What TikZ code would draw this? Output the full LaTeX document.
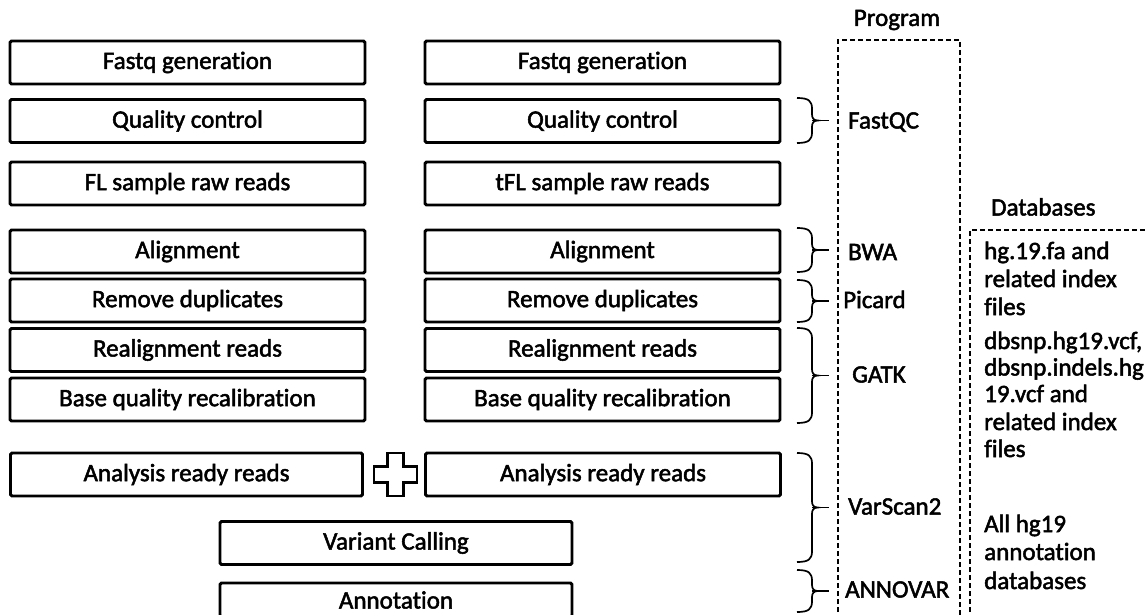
\documentclass[tikz,border=0pt]{standalone}
\usepackage{fontspec}
\setmainfont{Carlito}[Ligatures=NoCommon, FakeBold=2]
\usetikzlibrary{calc}

\tikzset{
  stepbox/.style={draw=black, line width=2.9pt, rounded corners=1.5pt, fill=white,
    minimum width=355pt, minimum height=43pt, inner sep=0pt,
    font=\fontsize{25}{28}\selectfont},
  widebox/.style={stepbox, minimum width=352pt},
  bracepen/.style={draw=black, line width=1.7pt},
  framepen/.style={draw=black, line width=1.9pt, dash pattern=on 5pt off 3pt},
  lbl/.style={inner sep=0pt, font=\fontsize{25}{28}\selectfont}
}

% right curly brace with a short stem at its middle
\newcommand\progbrace[2]{%
  \pgfmathsetmacro\bm{(#1+#2)/2}%
  \draw[bracepen] (797,#1) .. controls (809,#1) and (812,#1+3) .. (812,#1+11)
     -- (812,\bm-6) .. controls (812,\bm-2) and (814,\bm) .. (818,\bm)
     .. controls (814,\bm) and (812,\bm+2) .. (812,\bm+6)
     -- (812,#2-11) .. controls (812,#2-3) and (809,#2) .. (797,#2);
  \draw[bracepen] (812,\bm) -- (829,\bm);
}

\begin{document}
\begin{tikzpicture}[x=1pt, y=-1pt]
\useasboundingbox (0,0) rectangle (1148,615);
\clip (0,0) rectangle (1148,615);

% two sample columns
\node[stepbox] (L1) at (187.5,62.5)  {Fastq generation};
\node[stepbox] (L2) at (187.5,121)   {Quality control};
\node[stepbox] (L3) at (187.5,183.5) {FL sample raw reads};
\node[stepbox] (L4) at (187.5,251.5) {Alignment};
\node[stepbox] (L5) at (187.5,300.5) {Remove duplicates};
\node[stepbox] (L6) at (187.5,350)   {Realignment reads};
\node[stepbox] (L7) at (187.5,399.5) {Base quality recalibration};
\node[widebox] (L8) at (186.5,474.5) {Analysis ready reads};

\node[stepbox] (R1) at (602.5,62.5)  {Fastq generation};
\node[stepbox] (R2) at (602.5,121)   {Quality control};
\node[stepbox] (R3) at (602.5,183.5) {tFL sample raw reads};
\node[stepbox] (R4) at (602.5,251.5) {Alignment};
\node[stepbox] (R5) at (602.5,300.5) {Remove duplicates};
\node[stepbox] (R6) at (602.5,350)   {Realignment reads};
\node[stepbox] (R7) at (602.5,399.5) {Base quality recalibration};
\node[stepbox] (R8) at (603,474.5)   {Analysis ready reads};

% joint steps
\node[widebox] (vc)  at (396,543) {Variant Calling};
\node[widebox, minimum height=34pt] (ann) at (396,600) {Annotation};

% plus sign joining the two samples
\draw[draw=black, line width=2.9pt, fill=white]
  (387.5,453) -- (403.5,453) -- (403.5,466.5) -- (417,466.5) -- (417,482.5)
  -- (403.5,482.5) -- (403.5,496) -- (387.5,496) -- (387.5,482.5)
  -- (374,482.5) -- (374,466.5) -- (387.5,466.5) -- cycle;

% program column
\node[lbl] (proghead) at (897,20) {Program};
\draw[framepen] (838,660) -- (838,40) -- (960,40) -- (960,660);

\progbrace{98}{143}
\progbrace{228}{272}
\progbrace{280}{322}
\progbrace{328}{423}
\progbrace{453}{562}
\progbrace{570}{612}

\node[lbl, anchor=base west] (fastqc)  at (848,128.5) {FastQC};
\node[lbl, anchor=base west] (bwa)     at (848,260)   {BWA};
\node[lbl, anchor=base west] (picard)  at (843,308)   {Picard};
\node[lbl, anchor=base west] (gatk)    at (852,382.5) {GATK};
\node[lbl, anchor=base west] (varscan) at (848,514.5) {VarScan2};
\node[lbl, anchor=base west] (annovar) at (845,597.5) {ANNOVAR};

% database column
\node[lbl, anchor=base west] (dbhead) at (991,215.5) {Databases};
\draw[framepen] (970,660) -- (970,230) -- (1160,230);

\foreach \y/\t [count=\i] in {
   259/{hg.19.fa and}, 287/{related index}, 315/{files},
   349/{dbsnp.hg19.vcf,}, 375.5/{dbsnp.indels.hg}, 402/{19.vcf and},
   430/{related index}, 457/{files},
   532/{All hg19}, 560/{annotation}, 589/{databases}}
  \node[lbl, anchor=base west] (db\i) at (984,\y) {\t};
\end{tikzpicture}
\end{document}
